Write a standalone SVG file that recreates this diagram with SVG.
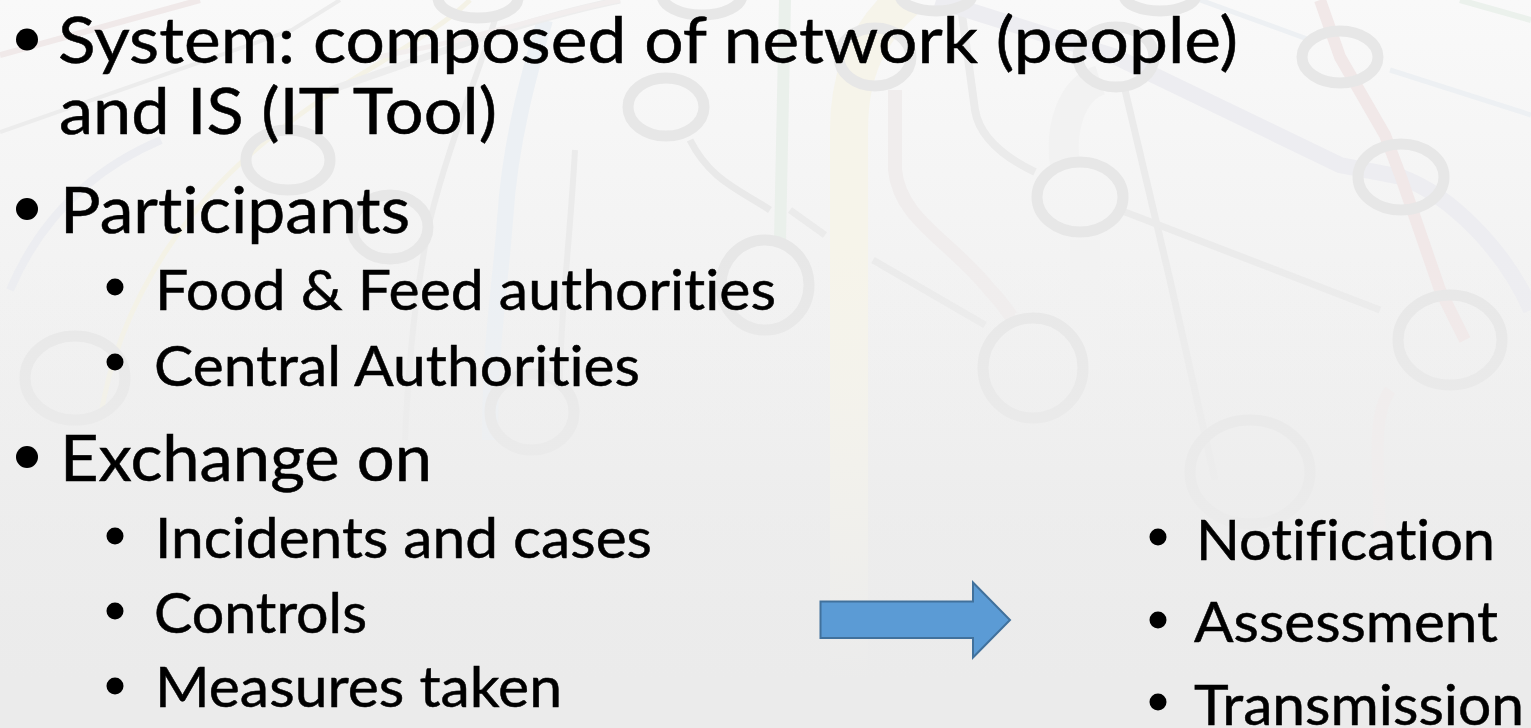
<svg xmlns="http://www.w3.org/2000/svg" width="1531" height="728" viewBox="0 0 1531 728">
<style>
.t{font-family:"Lato","Open Sans","Liberation Sans",sans-serif;fill:#000;font-variant-ligatures:none;stroke:#000;stroke-width:.5px}
.a{font-size:64px}
.b{font-size:56px}
.m{fill:none;stroke-linecap:butt}
.r{fill:none;stroke:#e7e7e7;stroke-width:11}
</style>
<defs>
<linearGradient id="bg" x1="0" y1="0" x2="0" y2="1"><stop offset="0" stop-color="#f9f9f9"/><stop offset="1" stop-color="#e8e8e8"/></linearGradient>
<linearGradient id="fade" gradientUnits="userSpaceOnUse" x1="0" y1="250" x2="0" y2="680">
<stop offset="0" stop-color="#f1f1f1" stop-opacity="0"/><stop offset="1" stop-color="#ebebeb" stop-opacity="1"/></linearGradient>
</defs>
<rect id="background" width="1531" height="728" fill="url(#bg)"/>
<g id="map">
<path class="m" stroke="#f0e9e9" stroke-width="6" d="M0 55L200 0"/>
<path class="m" stroke="#ececec" stroke-width="4" d="M0 132L292 30L340 0"/>
<path class="m" stroke="#f4f2e6" stroke-width="5" d="M470 0C430 40 340 80 280 130C200 190 120 290 100 420"/>
<path class="m" stroke="#ecedf1" stroke-width="8" d="M161 140C90 170 40 220 10 290"/>
<path class="m" stroke="#ecf0f4" stroke-width="16" d="M545 20C530 70 510 140 505 220C500 290 490 340 490 440"/>
<path class="m" stroke="#ebebeb" stroke-width="6" d="M497 13C480 70 450 140 430 220C420 270 410 330 405 440"/>
<path class="m" stroke="#ebebeb" stroke-width="6" d="M575 150C570 240 560 320 560 380"/>
<path class="m" stroke="#ededed" stroke-width="7" d="M330 90C420 60 520 20 620 0"/>
<path class="m" stroke="#e9e9e9" stroke-width="7" d="M690 140C710 180 740 190 770 210"/>
<path class="m" stroke="#f2eeee" stroke-width="5" d="M360 60C480 40 560 10 620 0"/>
<path class="m" stroke="#eaf0eb" stroke-width="12" d="M785 0L780 240"/>
<path class="m" stroke="#f6f4ea" stroke-width="38" d="M905 0C870 30 849 70 849 130V700"/>
<path class="m" stroke="#f0eded" stroke-width="14" d="M895 90V170C900 220 950 240 990 290C1005 305 1012 320 1015 320"/>
<path class="m" stroke="#f2f2f2" stroke-width="30" d="M1100 80C1070 90 1060 130 1065 165M1085 240V370"/>
<path class="m" stroke="#ebebeb" stroke-width="8" d="M960 0L975 110C980 140 1010 160 1035 172"/>
<path class="m" stroke="#ebebeb" stroke-width="7" d="M1125 90L1170 280L1215 480"/>
<path class="m" stroke="#ebebeb" stroke-width="7" d="M1125 212L1380 310"/>
<path class="m" stroke="#ebebeb" stroke-width="7" d="M873 260L985 325"/>
<path class="m" stroke="#ebebeb" stroke-width="7" d="M790 210L825 235"/>
<path class="m" stroke="#ededf1" stroke-width="16" d="M936 0L1116 57L1340 165L1401 177C1450 195 1505 250 1531 310"/>
<path class="m" stroke="#f1e8e8" stroke-width="12" d="M1320 0L1340 57L1385 135L1401 177L1440 290L1465 340"/>
<path class="m" stroke="#f1ecec" stroke-width="12" d="M1390 390C1370 420 1380 470 1380 560"/>
<path class="m" stroke="#edf0f3" stroke-width="5" d="M1200 0L1310 40M1390 70L1531 115"/>
<path class="m" stroke="#ebf1ec" stroke-width="6" d="M1460 0L1531 20"/>
<ellipse class="r" cx="478" cy="-2" rx="40" ry="20"/>
<ellipse class="r" cx="702" cy="-5" rx="40" ry="20"/>
<ellipse class="r" cx="666" cy="107" rx="38" ry="29"/>
<ellipse class="r" cx="288" cy="160" rx="42" ry="30"/>
<ellipse class="r" cx="390" cy="227" rx="38" ry="32"/>
<ellipse class="r" cx="75" cy="378" rx="50" ry="42"/>
<ellipse class="r" cx="765" cy="285" rx="44" ry="45"/>
<ellipse class="r" cx="875" cy="57" rx="36" ry="29"/>
<ellipse class="r" cx="936" cy="-5" rx="36" ry="16"/>
<ellipse class="r" cx="1160" cy="-5" rx="36" ry="16"/>
<ellipse class="r" cx="1116" cy="57" rx="38" ry="30"/>
<ellipse class="r" cx="1340" cy="57" rx="38" ry="26"/>
<ellipse class="r" cx="1401" cy="177" rx="43" ry="33"/>
<ellipse class="r" cx="1080" cy="197" rx="43" ry="35"/>
<ellipse class="r" cx="1033" cy="368" rx="50" ry="50"/>
<ellipse class="r" cx="1450" cy="340" rx="52" ry="45"/>
<ellipse class="r" cx="1250" cy="472" rx="60" ry="52"/>
<ellipse class="r" cx="532" cy="412" rx="42" ry="38"/>
</g>
<rect id="map-fade" width="1531" height="728" fill="url(#fade)"/>
<g id="left-list">
<g fill="#000">
<circle cx="27" cy="39.500" r="11"/><circle cx="27" cy="209" r="11"/><circle cx="27" cy="457" r="11"/>
<circle cx="115" cy="287" r="8.500"/><circle cx="115" cy="362" r="8.500"/><circle cx="115" cy="536" r="8.500"/><circle cx="115" cy="611" r="8.500"/><circle cx="115" cy="686" r="8.500"/>
</g>
<text class="t a" x="58" y="63" textLength="1180" lengthAdjust="spacingAndGlyphs">System: composed of network (people)</text>
<text class="t a" x="59" y="134" textLength="438" lengthAdjust="spacingAndGlyphs">and IS (IT Tool)</text>
<text class="t a" x="60" y="233" textLength="350" lengthAdjust="spacingAndGlyphs">Participants</text>
<text class="t b" x="155" y="310" textLength="621" lengthAdjust="spacingAndGlyphs">Food &amp; Feed authorities</text>
<text class="t b" x="154" y="386" textLength="486" lengthAdjust="spacingAndGlyphs">Central Authorities</text>
<text class="t a" x="60" y="481" textLength="372" lengthAdjust="spacingAndGlyphs">Exchange on</text>
<text class="t b" x="155" y="558" textLength="497" lengthAdjust="spacingAndGlyphs">Incidents and cases</text>
<text class="t b" x="154" y="633" textLength="213" lengthAdjust="spacingAndGlyphs">Controls</text>
<text class="t b" x="155" y="707" textLength="407" lengthAdjust="spacingAndGlyphs">Measures taken</text>
</g>
<g id="arrow">
<path d="M820.500 601.500H973V582.500L1010 620L973 657.500V638H820.500Z" fill="#5b9bd5" stroke="#41719c" stroke-width="2"/>
</g>
<g id="right-list">
<g fill="#000"><circle cx="1158" cy="537" r="8.500"/><circle cx="1158" cy="620" r="8.500"/><circle cx="1158" cy="702" r="8.500"/></g>
<text class="t b" x="1196" y="560" textLength="299" lengthAdjust="spacingAndGlyphs">Notification</text>
<text class="t b" x="1194" y="642" textLength="304" lengthAdjust="spacingAndGlyphs">Assessment</text>
<text class="t b" x="1194" y="725" textLength="330" lengthAdjust="spacingAndGlyphs">Transmission</text>
</g>
</svg>
